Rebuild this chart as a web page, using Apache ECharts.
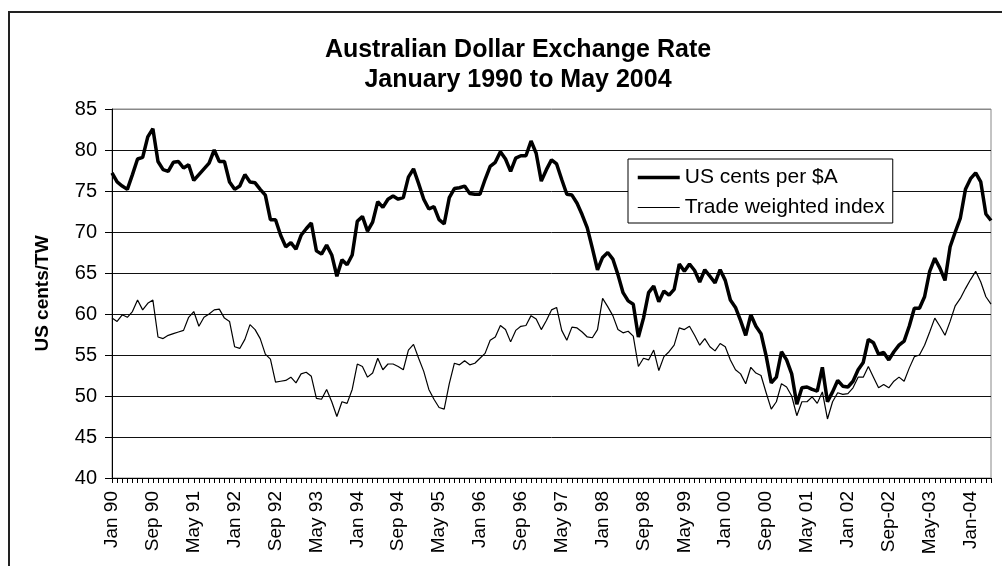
<!DOCTYPE html>
<html>
<head>
<meta charset="utf-8">
<script src="https://cdn.jsdelivr.net/npm/echarts@6/dist/echarts.min.js"></script>
<style>
  html, body { margin: 0; padding: 0; background: #fff; }
  #chart { width: 1002px; height: 566px; }
</style>
</head>
<body>
<div id="chart"></div>
<script>
// month names used to build the category axis (Jan 1990 .. May 2004)
const monthNames = ['Jan', 'Feb', 'Mar', 'Apr', 'May', 'Jun', 'Jul', 'Aug', 'Sep', 'Oct', 'Nov', 'Dec']

// labels shown under the axis, one every 8 months
const tickLabels = ['Jan 90', 'Sep 90', 'May 91', 'Jan 92', 'Sep 92', 'May 93', 'Jan 94', 'Sep 94',
  'May 95', 'Jan 96', 'Sep 96', 'May 97', 'Jan 98', 'Sep 98', 'May 99', 'Jan 00', 'Sep 00',
  'May 01', 'Jan 02', 'Sep-02', 'May-03', 'Jan-04']

// US cents per $A, monthly
const usCents = [
  77.2, 76.1, 75.6, 75.2, 77.0, 78.9, 79.1, 81.6, 82.6, 78.6, 77.6, 77.4,
  78.5, 78.6, 77.8, 78.2, 76.3, 77.0, 77.7, 78.4, 80.0, 78.6, 78.6, 76.1,
  75.2, 75.6, 77.0, 76.1, 76.0, 75.2, 74.5, 71.5, 71.5, 69.6, 68.2, 68.7,
  67.9, 69.6, 70.4, 71.1, 67.7, 67.3, 68.4, 67.2, 64.6, 66.6, 66.0, 67.2,
  71.3, 71.9, 70.1, 71.2, 73.7, 73.0, 74.0, 74.4, 74.0, 74.2, 76.7, 77.7,
  75.9, 74.0, 72.8, 73.1, 71.5, 71.0, 74.2, 75.3, 75.4, 75.6, 74.7, 74.6,
  74.6, 76.4, 78.0, 78.5, 79.8, 78.9, 77.4, 79.0, 79.3, 79.3, 81.1, 79.6,
  76.2, 77.6, 78.8, 78.3, 76.4, 74.6, 74.5, 73.5, 72.1, 70.5, 68.0, 65.4,
  66.9, 67.5, 66.7, 64.8, 62.6, 61.6, 61.2, 57.2, 59.5, 62.6, 63.4, 61.5,
  62.8, 62.3, 63.0, 66.1, 65.2, 66.1, 65.3, 63.9, 65.4, 64.6, 63.8, 65.4,
  64.1, 61.7, 60.8, 59.2, 57.4, 59.9, 58.5, 57.6, 54.9, 51.6, 52.3, 55.4,
  54.4, 52.7, 49.0, 51.0, 51.1, 50.8, 50.6, 53.5, 49.3, 50.5, 51.9, 51.2,
  51.1, 51.8, 53.2, 54.1, 56.9, 56.5, 55.1, 55.3, 54.4, 55.4, 56.2, 56.7,
  58.5, 60.7, 60.7, 62.1, 65.2, 66.8, 65.6, 64.1, 68.2, 70.0, 71.7, 75.2,
  76.5, 77.2, 76.1, 72.2, 71.4
]

// trade weighted index, monthly
const twIndex = [
  59.5, 59.1, 59.9, 59.6, 60.3, 61.7, 60.5, 61.3, 61.7, 57.2, 57.0, 57.4,
  57.6, 57.8, 58.0, 59.6, 60.3, 58.5, 59.6, 60.0, 60.5, 60.6, 59.5, 59.1,
  56.0, 55.8, 56.9, 58.7, 58.1, 57.0, 55.1, 54.5, 51.7, 51.8, 51.9, 52.3,
  51.6, 52.7, 52.9, 52.4, 49.7, 49.6, 50.8, 49.3, 47.5, 49.3, 49.1, 50.8,
  53.9, 53.6, 52.3, 52.8, 54.6, 53.2, 53.9, 53.9, 53.6, 53.2, 55.6, 56.3,
  54.6, 53.0, 50.8, 49.6, 48.6, 48.4, 51.5, 54.0, 53.8, 54.3, 53.8, 54.0,
  54.6, 55.2, 56.8, 57.2, 58.6, 58.1, 56.6, 58.0, 58.5, 58.6, 59.8, 59.4,
  58.1, 59.2, 60.5, 60.8, 58.0, 56.8, 58.4, 58.3, 57.8, 57.2, 57.1, 58.1,
  61.9, 60.9, 59.8, 58.1, 57.7, 57.9, 57.3, 53.6, 54.6, 54.4, 55.6, 53.1,
  54.8, 55.4, 56.2, 58.3, 58.1, 58.5, 57.4, 56.2, 57.0, 56.0, 55.5, 56.4,
  56.0, 54.4, 53.2, 52.7, 51.5, 53.5, 52.8, 52.5, 50.4, 48.4, 49.3, 51.5,
  51.1, 50.0, 47.6, 49.3, 49.3, 49.9, 49.1, 50.5, 47.2, 49.3, 50.4, 50.2,
  50.3, 51.0, 52.3, 52.3, 53.6, 52.3, 51.0, 51.4, 51.0, 51.8, 52.3, 51.8,
  53.4, 54.8, 55.0, 56.2, 57.8, 59.5, 58.5, 57.4, 59.1, 61.0, 61.9, 63.1,
  64.2, 65.2, 63.9, 62.1, 61.2
]

// category axis: one entry per month
const months = []
for (let i = 0; i < usCents.length; i++) {
  const yr = 90 + Math.floor(i / 12)
  months.push(monthNames[i % 12] + ' ' + String(yr % 100).padStart(2, '0'))
}

const font = "'Liberation Sans', Arial, sans-serif"

const chart = echarts.init(document.getElementById('chart'))

const option = {
  backgroundColor: '#fff',
  animation: false,
  title: {
    text: 'Australian Dollar Exchange Rate\nJanuary 1990 to May 2004',
    left: 513,
    top: 30,
    textAlign: 'center',
    textStyle: {
      fontFamily: font,
      fontSize: 25,
      fontWeight: 'bold',
      color: '#000',
      lineHeight: 30
    }
  },
  legend: {
    orient: 'vertical',
    left: 628,
    top: 159,
    padding: [8, 8, 5, 8],
    itemGap: 9,
    itemWidth: 42,
    itemHeight: 14,
    borderColor: '#000',
    borderWidth: 1,
    backgroundColor: '#fff',
    // hide the marker dot, keep only the line sample
    itemStyle: { color: 'rgba(0,0,0,0)', borderWidth: 0 },
    textStyle: { fontFamily: font, fontSize: 21, color: '#000' },
    data: [
      { name: 'US cents per $A', lineStyle: { width: 3.5, color: '#000' } },
      { name: 'Trade weighted index', lineStyle: { width: 1.2, color: '#000' } }
    ]
  },
  grid: {
    left: 112,
    right: 11,
    top: 109,
    bottom: 88,
    show: true,
    borderColor: '#888',
    borderWidth: 1
  },
  xAxis: {
    type: 'category',
    data: months,
    boundaryGap: false,
    axisLine: { lineStyle: { color: '#000', width: 1 } },
    axisTick: { interval: 0, length: 5, lineStyle: { color: '#000' } },
    axisLabel: {
      interval: 7,
      rotate: 90,
      margin: 13,
      fontFamily: font,
      fontSize: 19,
      color: '#000',
      formatter: (val, idx) => tickLabels[Math.round(idx / 8)] || val
    },
    splitLine: { show: false }
  },
  yAxis: {
    type: 'value',
    min: 40,
    max: 85,
    interval: 5,
    name: 'US cents/TW',
    nameLocation: 'middle',
    nameGap: 60,
    nameTextStyle: { fontFamily: font, fontSize: 19, fontWeight: 'bold', color: '#000' },
    axisLine: { show: true, lineStyle: { color: '#000', width: 1 } },
    axisTick: { show: true, length: 7, lineStyle: { color: '#000' } },
    axisLabel: { margin: 15, fontFamily: font, fontSize: 20, color: '#000' },
    splitLine: {
      lineStyle: {
        color: ['#000', '#111', '#111', '#111', '#111', '#111', '#111', '#111', '#111', '#888'],
        width: 1
      }
    }
  },
  series: [
    {
      name: 'US cents per $A',
      type: 'line',
      data: usCents,
      symbol: 'none',
      lineStyle: { color: '#000', width: 3.5 },
      itemStyle: { color: '#000' },
      z: 3
    },
    {
      name: 'Trade weighted index',
      type: 'line',
      data: twIndex,
      symbol: 'none',
      lineStyle: { color: '#000', width: 1.2 },
      itemStyle: { color: '#000' },
      z: 2
    }
  ],
  graphic: [
    {
      type: 'rect',
      shape: { x: 9, y: 12, width: 1020, height: 600 },
      style: { fill: null, stroke: '#222', lineWidth: 2 },
      silent: true
    }
  ]
}

chart.setOption(option)

window.addEventListener('resize', () => {
  chart.resize()
})
</script>
</body>
</html>
